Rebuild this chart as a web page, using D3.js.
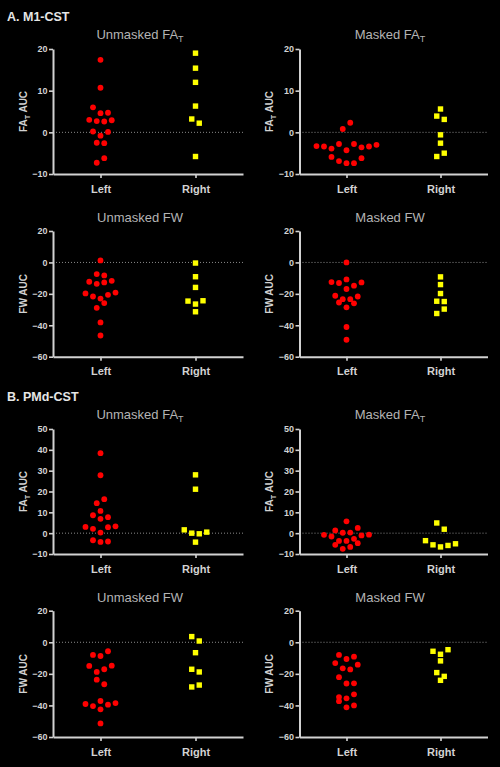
<!DOCTYPE html>
<html>
<head>
<meta charset="utf-8">
<script src="https://cdn.jsdelivr.net/npm/d3@7"></script>
<style>
  html, body { margin: 0; padding: 0; background: #000; }
  svg { display: block; }
</style>
</head>
<body>
<svg id="chart" width="500" height="767"></svg>
<script>
// ---------------- DATA ----------------
const groups = ["Left", "Right"];
const sections = ["A. M1-CST", "B. PMd-CST"];
const titleMain = ["Unmasked FA", "Masked FA", "Unmasked FW", "Masked FW"];

const ticksFA_M1 = [-10, 0, 10, 20];
const ticksFW = [-60, -40, -20, 0, 20];
const ticksFA_PMd = [-10, 0, 10, 20, 30, 40, 50];

// A. M1-CST
const m1UnmaskedFA_Left  = [17.4, 10.7, 6.0, 4.6, 4.7, 3.0, 2.7, 2.6, 2.9, 0.2, -0.8, 0.1, -2.5, -2.6, -7.3, -6.2];
const m1UnmaskedFA_Right = [19.0, 15.4, 12.0, 6.3, 3.2, 2.2, -5.8];
const m1MaskedFA_Left    = [0.8, 2.3, -3.3, -3.4, -3.9, -2.8, -4.3, -2.8, -3.6, -3.4, -3.0, -5.9, -6.9, -7.4, -7.4, -6.2];
const m1MaskedFA_Right   = [5.6, 3.9, 3.1, -0.6, -2.6, -5.8, -5.0];
const m1UnmaskedFW_Left  = [1.3, -7.4, -8.3, -12.3, -13.6, -12.7, -11.7, -19.7, -21.7, -23.0, -20.6, -19.2, -28.9, -25.9, -38.2, -46.5];
const m1UnmaskedFW_Right = [-0.4, -9.1, -15.9, -24.6, -26.5, -24.4, -31.4];
const m1MaskedFW_Left    = [0.0, -12.5, -13.1, -10.8, -14.8, -12.7, -16.9, -21.2, -23.4, -23.4, -21.7, -25.5, -28.6, -26.0, -41.1, -49.2];
const m1MaskedFW_Right   = [-9.2, -14.1, -19.8, -24.7, -24.9, -32.5, -29.7];

// B. PMd-CST
const pmdUnmaskedFA_Left  = [38.4, 27.8, 14.4, 16.3, 8.6, 10.7, 7.7, 6.9, 3.0, 2.1, 0.3, 2.9, 3.3, -3.4, -4.2, -4.0];
const pmdUnmaskedFA_Right = [28.0, 21.1, 1.6, 0.0, -0.3, 0.5, -4.3];
const pmdMaskedFA_Left    = [5.7, 1.3, 0.2, 0.3, 2.5, -0.8, -1.6, -3.7, -3.7, -2.7, -1.1, -0.7, -5.6, -7.5, -6.6, -4.8];
const pmdMaskedFA_Right   = [4.9, 1.9, -3.6, -5.6, -6.6, -5.9, -5.1];
const pmdUnmaskedFW_Left  = [-8.0, -8.7, -5.7, -15.0, -18.8, -17.1, -14.8, -23.7, -26.6, -39.1, -40.4, -37.2, -39.5, -38.5, -42.5, -51.4];
const pmdUnmaskedFW_Right = [3.6, 0.8, -6.6, -17.1, -18.8, -28.3, -27.1];
const pmdMaskedFW_Left    = [-8.0, -10.6, -9.1, -13.2, -16.5, -17.2, -14.2, -22.1, -26.1, -26.0, -34.7, -35.5, -33.0, -37.3, -41.2, -40.0];
const pmdMaskedFW_Right   = [-5.7, -7.6, -4.7, -11.8, -19.2, -21.6, -24.1];

// ---------------- PANELS ----------------
const panels = [
  {row: 0, col: 0, title: 0, sub: true,  ylab: "FA", yDomain: [-10, 20], ticks: ticksFA_M1,  left: m1UnmaskedFA_Left,  right: m1UnmaskedFA_Right},
  {row: 0, col: 1, title: 1, sub: true,  ylab: "FA", yDomain: [-10, 20], ticks: ticksFA_M1,  left: m1MaskedFA_Left,    right: m1MaskedFA_Right},
  {row: 1, col: 0, title: 2, sub: false, ylab: "FW", yDomain: [-60, 20], ticks: ticksFW,     left: m1UnmaskedFW_Left,  right: m1UnmaskedFW_Right},
  {row: 1, col: 1, title: 3, sub: false, ylab: "FW", yDomain: [-60, 20], ticks: ticksFW,     left: m1MaskedFW_Left,    right: m1MaskedFW_Right},
  {row: 2, col: 0, title: 0, sub: true,  ylab: "FA", yDomain: [-10, 50], ticks: ticksFA_PMd, left: pmdUnmaskedFA_Left, right: pmdUnmaskedFA_Right},
  {row: 2, col: 1, title: 1, sub: true,  ylab: "FA", yDomain: [-10, 50], ticks: ticksFA_PMd, left: pmdMaskedFA_Left,   right: pmdMaskedFA_Right},
  {row: 3, col: 0, title: 2, sub: false, ylab: "FW", yDomain: [-60, 20], ticks: ticksFW,     left: pmdUnmaskedFW_Left, right: pmdUnmaskedFW_Right},
  {row: 3, col: 1, title: 3, sub: false, ylab: "FW", yDomain: [-60, 20], ticks: ticksFW,     left: pmdMaskedFW_Left,   right: pmdMaskedFW_Right}
];

// ---------------- LAYOUT ----------------
const COLS = [
  {x0: 53, x1: 243, titleX: 140, ylabX: 27},
  {x0: 299.5, x1: 487.5, titleX: 390, ylabX: 273}
];
const ROWS = [
  {top: 49,    bottom: 174,   titleY: 39.3},
  {top: 231,   bottom: 356.7, titleY: 221.7},
  {top: 429,   bottom: 554,   titleY: 419.3},
  {top: 610.7, bottom: 737,   titleY: 601.7}
];
const SECTION_Y = [20.5, 400.5];

const FONT = "'Liberation Sans', Arial, Helvetica, sans-serif";
const AXIS_COLOR = "#d2d2d2";
const TEXT_COLOR = "#d2d2d2";
const TITLE_COLOR = "#b4b4b4";
const RED = "#ff0000";
const YELLOW = "#ffff00";

const svg = d3.select("#chart");
svg.append("rect").attr("width", 500).attr("height", 767).attr("fill", "#000");

// section labels
sections.forEach((s, i) => {
  svg.append("text")
    .attr("x", 7).attr("y", SECTION_Y[i])
    .attr("font-family", FONT).attr("font-size", 12.5).attr("font-weight", "bold")
    .attr("fill", "#e6e6e6")
    .text(s);
});

// GraphPad-style column scatter: group points whose pixel y lies within one
// row height, and spread each row symmetrically around the group centre.
function swarm(values, y, cx, rowH, step) {
  const order = d3.range(values.length).sort((a, b) => (values[b] - values[a]) || (a - b));
  const rows = [];
  let cur = null;
  order.forEach(i => {
    const py = y(values[i]);
    if (!cur || py - cur.start > rowH) { cur = {start: py, items: []}; rows.push(cur); }
    cur.items.push(i);
  });
  const xs = new Array(values.length);
  rows.forEach(r => {
    r.items.sort((a, b) => a - b);
    const n = r.items.length;
    r.items.forEach((i, k) => { xs[i] = cx + (k - (n - 1) / 2) * step; });
  });
  return values.map((v, i) => ({v, x: xs[i], y: y(v)}));
}

panels.forEach(p => {
  const C = COLS[p.col], R = ROWS[p.row];
  const g = svg.append("g");

  const x = d3.scalePoint().domain(groups).range([C.x0, C.x1]).padding(0.5);
  const y = d3.scaleLinear().domain(p.yDomain).range([R.bottom, R.top]);

  // zero reference line
  g.append("line")
    .attr("x1", C.x0).attr("x2", C.x1)
    .attr("y1", y(0)).attr("y2", y(0))
    .attr("stroke", "#8a8a8a").attr("stroke-width", 1)
    .attr("stroke-dasharray", "1,2");

  // y axis
  const ya = g.append("g")
    .attr("transform", `translate(${C.x0},0)`)
    .call(d3.axisLeft(y).tickValues(p.ticks).tickSize(4).tickSizeOuter(0).tickPadding(1.5));
  // x axis
  const xa = g.append("g")
    .attr("transform", `translate(0,${R.bottom})`)
    .call(d3.axisBottom(x).tickSize(4).tickSizeOuter(0).tickPadding(7));

  [ya, xa].forEach(a => {
    a.select(".domain").attr("stroke", AXIS_COLOR).attr("stroke-width", 2);
    a.selectAll(".tick line").attr("stroke", AXIS_COLOR).attr("stroke-width", 1.6);
    a.selectAll(".tick text").attr("fill", TEXT_COLOR).attr("font-family", FONT);
  });
  ya.selectAll(".tick text").attr("font-size", 9).attr("font-weight", "bold");
  xa.selectAll(".tick text").attr("font-size", 11).attr("font-weight", "bold");

  // title
  const t = g.append("text")
    .attr("x", C.titleX).attr("y", R.titleY)
    .attr("text-anchor", "middle")
    .attr("font-family", FONT).attr("font-size", 13)
    .attr("fill", TITLE_COLOR);
  t.append("tspan").text(titleMain[p.title]);
  if (p.sub) t.append("tspan").attr("dy", 3).attr("font-size", 9).text("T");

  // y label
  const yl = g.append("text")
    .attr("transform", `translate(${C.ylabX},${(R.top + R.bottom) / 2}) rotate(-90)`)
    .attr("text-anchor", "middle")
    .attr("font-family", FONT).attr("font-size", 10).attr("font-weight", "bold")
    .attr("fill", TEXT_COLOR);
  yl.append("tspan").text(p.ylab);
  if (p.sub) {
    yl.append("tspan").attr("dy", 2.5).attr("font-size", 7).text("T");
    yl.append("tspan").attr("dy", -2.5).text(" AUC");
  } else {
    yl.append("tspan").text(" AUC");
  }

  // Left: red circles
  const L = swarm(p.left, y, x("Left"), 6.5, 7.5);
  g.selectAll("circle.pt").data(L).join("circle")
    .attr("class", "pt")
    .attr("cx", d => d.x).attr("cy", d => d.y).attr("r", 2.9)
    .attr("fill", RED);

  // Right: yellow squares
  const Rt = swarm(p.right, y, x("Right"), 6.5, 7.5);
  const s = 5.4;
  g.selectAll("rect.pt").data(Rt).join("rect")
    .attr("class", "pt")
    .attr("x", d => d.x - s / 2).attr("y", d => d.y - s / 2)
    .attr("width", s).attr("height", s)
    .attr("fill", YELLOW);
});
</script>
</body>
</html>
